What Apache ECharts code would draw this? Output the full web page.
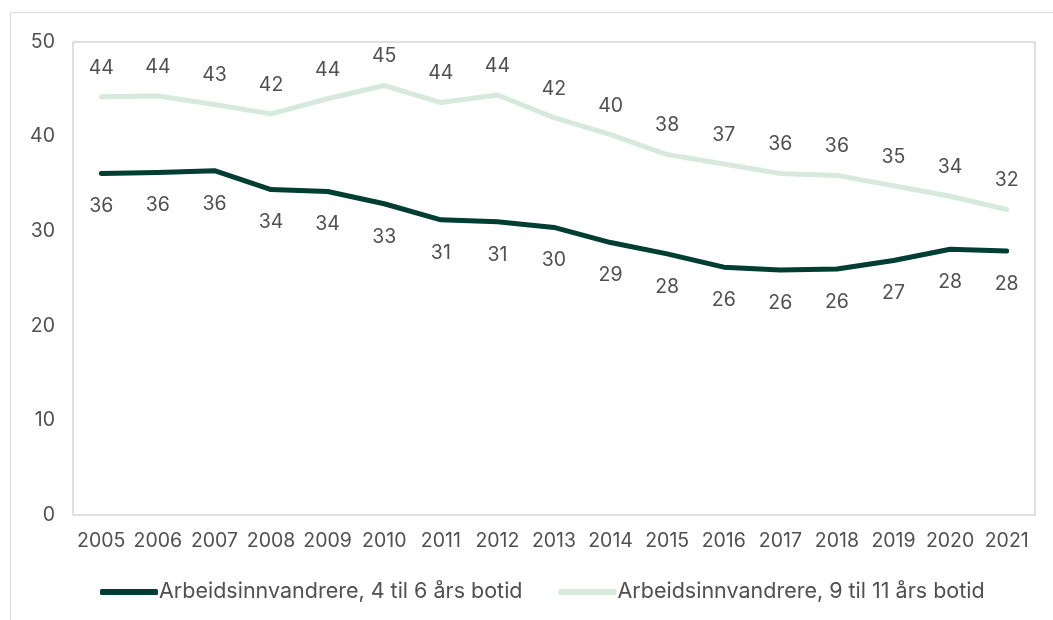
<!DOCTYPE html>
<html>
<head>
<meta charset="utf-8">
<script src="https://cdn.jsdelivr.net/npm/echarts@6/dist/echarts.min.js"></script>
<style>
  html, body { margin: 0; padding: 0; background: #ffffff; }
  #chart { width: 1053px; height: 620px; }
</style>
</head>
<body>
<div id="chart"></div>
<script>
// år
const years = ['2005', '2006', '2007', '2008', '2009', '2010', '2011', '2012', '2013',
  '2014', '2015', '2016', '2017', '2018', '2019', '2020', '2021']
// 4 til 6 års botid
const botid4til6 = [36.1, 36.2, 36.4, 34.4, 34.2, 32.9, 31.2, 31.0, 30.4,
  28.8, 27.6, 26.2, 25.9, 26.0, 26.9, 28.1, 27.9]
// 9 til 11 års botid
const botid9til11 = [44.2, 44.3, 43.4, 42.4, 44.0, 45.4, 43.6, 44.4, 42.0,
  40.2, 38.1, 37.1, 36.1, 35.9, 34.8, 33.7, 32.3]
const yTicks = {min: 0, max: 50, interval: 10}

const textColor = '#505050'
const font = 'Inter'

const myChart = echarts.init(document.getElementById('chart'))
myChart.setOption({
  animation: false,
  textStyle: {fontFamily: font},
  graphic: [{
    type: 'rect',
    silent: true,
    shape: {x: 10.5, y: 12.5, width: 1200, height: 800},
    style: {fill: 'none', stroke: '#d9d9d9', lineWidth: 1}
  }],
  grid: {
    left: 73,
    right: 18,
    top: 42,
    bottom: 105,
    show: true,
    borderColor: '#bfbfbf',
    borderWidth: 1
  },
  legend: {
    top: 576,
    left: 95,
    icon: 'roundRect',
    itemWidth: 58,
    itemHeight: 6,
    itemGap: 36,
    textStyle: {color: textColor, fontSize: 21.5, fontFamily: font, padding: [0, 0, 0, -4]},
    data: ['Arbeidsinnvandrere, 4 til 6 års botid', 'Arbeidsinnvandrere, 9 til 11 års botid']
  },
  xAxis: {
    type: 'category',
    data: years,
    boundaryGap: true,
    axisLine: {show: false},
    axisTick: {show: false},
    axisLabel: {color: textColor, fontSize: 19.5, margin: 16, interval: 0}
  },
  yAxis: {
    type: 'value',
    min: yTicks.min,
    max: yTicks.max,
    interval: yTicks.interval,
    axisLine: {show: false},
    axisTick: {show: false},
    splitLine: {show: false},
    axisLabel: {color: textColor, fontSize: 19.5, margin: 18}
  },
  series: [
    {
      name: 'Arbeidsinnvandrere, 4 til 6 års botid',
      type: 'line',
      data: botid4til6,
      showSymbol: true,
      symbol: 'circle',
      symbolSize: 0,
      color: '#003d33',
      lineStyle: {width: 5, color: '#003d33', cap: 'round', join: 'round'},
      label: {
        show: true,
        position: 'bottom',
        distance: 23,
        color: textColor,
        fontSize: 19.5,
        formatter: p => Math.round(p.value)
      }
    },
    {
      name: 'Arbeidsinnvandrere, 9 til 11 års botid',
      type: 'line',
      data: botid9til11,
      showSymbol: true,
      symbol: 'circle',
      symbolSize: 0,
      color: '#d6e9dc',
      lineStyle: {width: 5, color: '#d6e9dc', cap: 'round', join: 'round'},
      label: {
        show: true,
        position: 'top',
        distance: 19,
        color: textColor,
        fontSize: 19.5,
        formatter: p => Math.round(p.value)
      }
    }
  ]
})
</script>
</body>
</html>
